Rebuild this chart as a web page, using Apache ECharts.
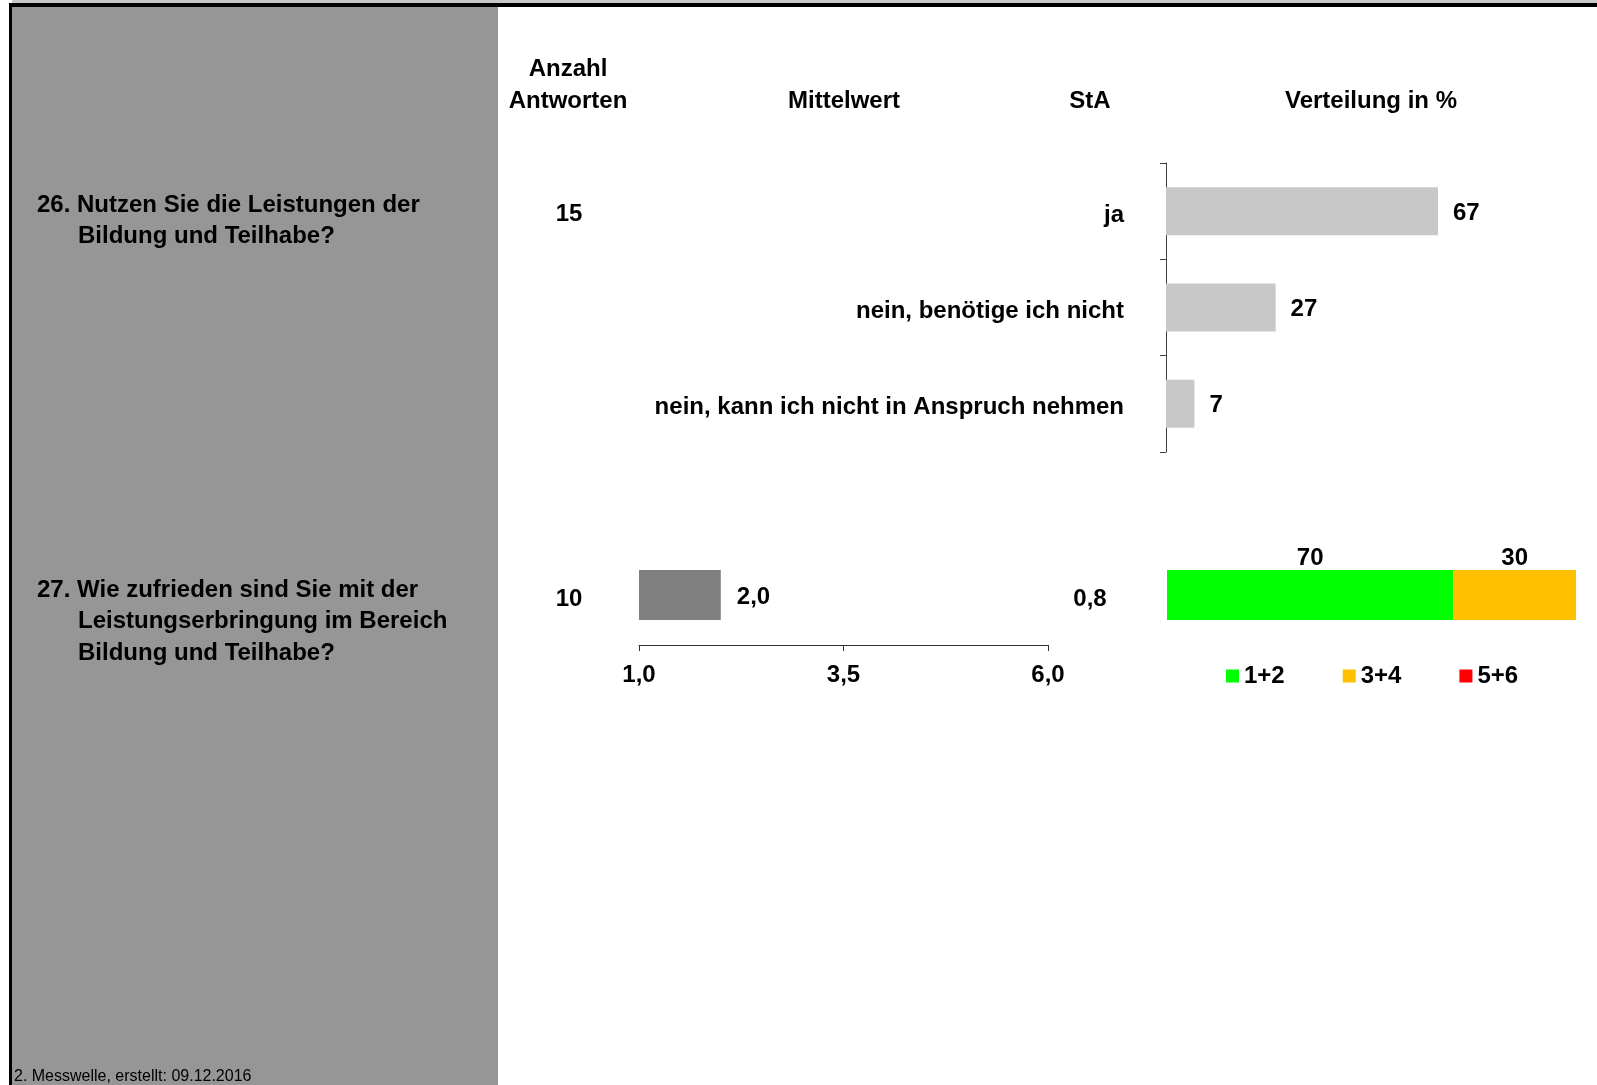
<!DOCTYPE html>
<html>
<head>
<meta charset="utf-8">
<script src="https://cdn.jsdelivr.net/npm/echarts@6/dist/echarts.min.js"></script>
<style>
html,body{margin:0;padding:0;background:#fff;}
#chart{width:1597px;height:1085px;}
</style>
</head>
<body>
<div id="chart"></div>
<script>
// ---- data ----
const headerCount = ['Anzahl', 'Antworten'];
const headerMean = 'Mittelwert';
const headerSd = 'StA';
const headerDist = 'Verteilung in %';
const q26Lines = ['26. Nutzen Sie die Leistungen der', 'Bildung und Teilhabe?'];
const q27Lines = ['27. Wie zufrieden sind Sie mit der', 'Leistungserbringung im Bereich', 'Bildung und Teilhabe?'];
const q26Count = 15;
const q27Count = 10;
const q26Categories = ['ja', 'nein, benötige ich nicht', 'nein, kann ich nicht in Anspruch nehmen'];
const q26Values = [67, 27, 7];
const q27Mean = [2.0];
const q27Sd = 0.8;
const meanTicks = [1.0, 3.5, 6.0];
const distNames = ['1+2', '3+4', '5+6'];
const distValues = [[70], [30], [0]];
const distColors = ['#00FF00', '#FFC000', '#FF0000'];
const footer = '2. Messwelle, erstellt: 09.12.2016';

const FONT = 'Liberation Sans, Arial, sans-serif';
const FS = 24;
const fmtDE = v => Number(v).toFixed(1).replace('.', ',');

const chart = echarts.init(document.getElementById('chart'), null, {renderer: 'canvas'});

function txt(x, y, text, align, size, weight) {
  return {
    type: 'text', x: x, y: y, silent: true,
    style: {
      text: text, fill: '#000', font: (weight || 'bold') + ' ' + (size || FS) + 'px ' + FONT,
      align: align || 'left', verticalAlign: 'middle'
    }
  };
}

const graphics = [
  {type: 'rect', shape: {x: 12, y: 0, width: 1585, height: 3}, style: {fill: '#c8c8c8'}, silent: true, z: -10},
  {type: 'rect', shape: {x: 12, y: 7, width: 486, height: 1078}, style: {fill: '#969696'}, silent: true, z: -10},
  {type: 'rect', shape: {x: 9, y: 3, width: 1588, height: 4}, style: {fill: '#000'}, silent: true, z: -5},
  {type: 'rect', shape: {x: 9, y: 3, width: 3, height: 1082}, style: {fill: '#000'}, silent: true, z: -5},
  txt(568, 69, headerCount[0], 'center'),
  txt(568, 101, headerCount[1], 'center'),
  txt(844, 101, headerMean, 'center'),
  txt(1090, 101, headerSd, 'center'),
  txt(1371, 101, headerDist, 'center'),
  txt(569, 214, String(q26Count), 'center'),
  txt(569, 599, String(q27Count), 'center'),
  txt(1090, 599, fmtDE(q27Sd), 'center'),
  txt(14, 1077, footer, 'left', 16, 'normal')
];
q26Lines.forEach((l, i) => graphics.push(txt(i === 0 ? 37 : 78, 205 + i * 31.5, l)));
q27Lines.forEach((l, i) => graphics.push(txt(i === 0 ? 37 : 78, 590 + i * 31.5, l)));

const labelStyle = {color: '#000', fontSize: FS, fontWeight: 'bold', fontFamily: FONT};

const series = [
  {
    type: 'bar', xAxisIndex: 0, yAxisIndex: 0, data: q26Values, barWidth: 48,
    itemStyle: {color: '#C8C8C8'},
    label: Object.assign({show: true, position: 'right', distance: 15, offset: [0, 2]}, labelStyle),
    silent: true
  },
  {
    type: 'bar', xAxisIndex: 1, yAxisIndex: 1, data: q27Mean, barWidth: 50, clip: true,
    itemStyle: {color: '#808080'},
    label: Object.assign({show: true, position: 'right', distance: 16, offset: [0, 2], formatter: p => fmtDE(p.value)}, labelStyle),
    silent: true
  }
];
distNames.forEach((n, i) => {
  series.push({
    type: 'bar', name: n, xAxisIndex: 2, yAxisIndex: 2, stack: 'dist', data: distValues[i], barWidth: 50,
    itemStyle: {color: distColors[i]},
    label: Object.assign({show: true, position: 'top', distance: 2, offset: [0, 2], formatter: p => p.value > 0 ? String(p.value) : ''}, labelStyle),
    silent: true
  });
});

const option = {
  animation: false,
  textStyle: {fontFamily: FONT},
  graphic: graphics,
  grid: [
    {left: 1166, top: 163, width: 406, height: 289},
    {left: 639, top: 545, width: 409, height: 100},
    {left: 1167, top: 545, width: 409, height: 100}
  ],
  xAxis: [
    {gridIndex: 0, type: 'value', min: 0, max: 100, show: false},
    {gridIndex: 1, type: 'value', min: 1, max: 6, position: 'bottom',
      axisLine: {show: true, lineStyle: {color: '#333', width: 1}},
      axisTick: {show: true, length: 6, customValues: meanTicks, lineStyle: {color: '#333'}},
      axisLabel: Object.assign({show: true, margin: 18, customValues: meanTicks, formatter: v => fmtDE(v)}, labelStyle),
      splitLine: {show: false}},
    {gridIndex: 2, type: 'value', min: 0, max: 100, show: false}
  ],
  yAxis: [
    {gridIndex: 0, type: 'category', inverse: true, data: q26Categories,
      axisLine: {show: true, lineStyle: {color: '#404040', width: 1}},
      axisTick: {show: true, length: 6, lineStyle: {color: '#404040'}},
      axisLabel: {show: true, margin: 42, formatter: v => '{c|' + v + '}',
        rich: {c: Object.assign({padding: [8, 0, 0, 0]}, labelStyle)}},
      splitLine: {show: false}},
    {gridIndex: 1, type: 'category', data: ['Mittelwert'], show: false},
    {gridIndex: 2, type: 'category', data: ['Verteilung'], show: false}
  ],
  legend: {
    data: distNames, left: 1226, top: 664, padding: 0, itemGap: 58,
    itemWidth: 13, itemHeight: 13, icon: 'rect', selectedMode: false,
    textStyle: labelStyle
  },
  series: series
};
chart.setOption(option);
</script>
</body>
</html>
